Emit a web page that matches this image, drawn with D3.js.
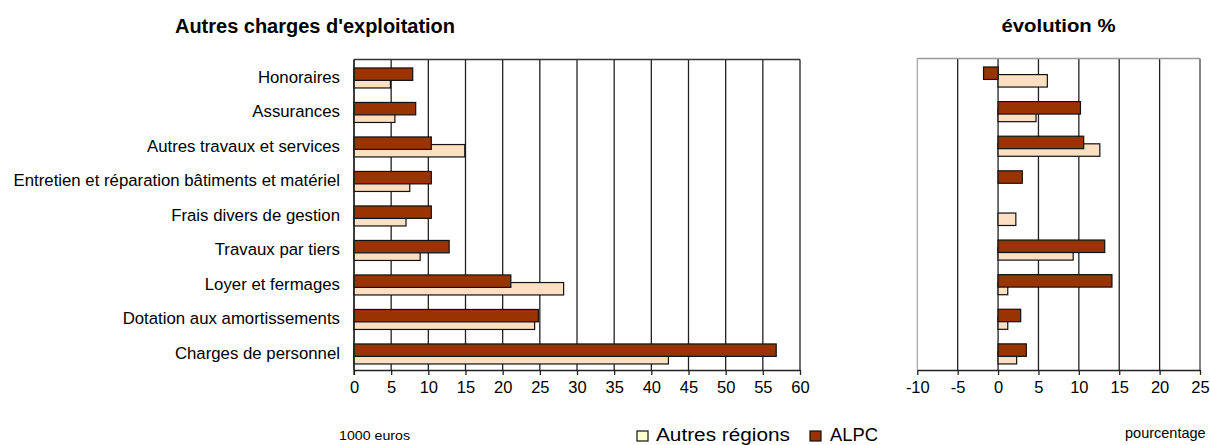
<!DOCTYPE html>
<html><head><meta charset="utf-8">
<script src="https://cdn.jsdelivr.net/npm/d3@7/dist/d3.min.js"></script>
<style>
html,body{margin:0;padding:0;background:#fff;}
svg{display:block;}
text{font-family:"Liberation Sans",Arial,sans-serif;fill:#000;}
</style></head>
<body>
<svg id="chart" width="1210" height="445"></svg>
<script>
const categories = ["Honoraires", "Assurances", "Autres travaux et services",
  "Entretien et réparation bâtiments et matériel", "Frais divers de gestion",
  "Travaux par tiers", "Loyer et fermages", "Dotation aux amortissements", "Charges de personnel"];
const alpcValues   = [7.9, 8.3, 10.4, 10.4, 10.4, 12.8, 21.1, 24.8, 56.8];
const autresValues = [4.9, 5.5, 14.9, 7.5, 7.0, 8.9, 28.2, 24.3, 42.3];
const alpcEvol     = [-1.8, 10.2, 10.6, 3.0, 0, 13.2, 14.1, 2.8, 3.5];
const autresEvol   = [6.1, 4.7, 12.6, 0, 2.2, 9.3, 1.2, 1.2, 2.3];
const leftTicks  = [0,5,10,15,20,25,30,35,40,45,50,55,60];
const rightTicks = [-10,-5,0,5,10,15,20,25];
const seriesNames = ["Autres régions", "ALPC"];

const colAlpc = "#993300", colAutres = "#FDDFC2", colLegAutres = "#FFFFCC";
const svg = d3.select("#chart");

function panel(opts){
  const {x0,x1,y0,y1,domain,ticks,a,b,borderLeft,borderTop,borderRight} = opts;
  const x = d3.scaleLinear().domain(domain).range([x0,x1]);
  const y = d3.scaleBand().domain(categories).range([y0,y1]).paddingInner(0).paddingOuter(0);
  const g = svg.append("g");
  g.selectAll("line.grid").data(ticks).enter().append("line")
    .attr("x1", d=>x(d)).attr("x2", d=>x(d)).attr("y1", y0).attr("y2", y1)
    .attr("stroke", d => d===domain[0] ? borderLeft : (d===domain[1] ? borderRight : "#222"))
    .attr("stroke-width", 1.3);
  g.append("line").attr("x1", x0).attr("x2", x1).attr("y1", y0).attr("y2", y0)
    .attr("stroke", borderTop).attr("stroke-width", 1.3);
  const bw = y.bandwidth();
  const h = bw*0.36;
  g.selectAll("rect.autres").data(categories).enter().append("rect")
    .attr("x", (d,i)=>x(Math.min(0,b[i]))).attr("width", (d,i)=>Math.abs(x(b[i])-x(0)))
    .attr("y", d=>y(d)+bw*0.465).attr("height", h)
    .attr("fill", colAutres).attr("stroke", "#111").attr("stroke-width", 1.2);
  g.selectAll("rect.alpc").data(categories).enter().append("rect")
    .attr("x", (d,i)=>x(Math.min(0,a[i]))).attr("width", (d,i)=>Math.abs(x(a[i])-x(0)))
    .attr("y", d=>y(d)+bw*0.245).attr("height", h)
    .attr("fill", colAlpc).attr("stroke", "#111").attr("stroke-width", 1.2);
  const ax = d3.axisBottom(x).tickValues(ticks).tickFormat(d=>String(d))
    .tickSize(5).tickSizeOuter(0).tickPadding(6);
  const axg = g.append("g").attr("transform", `translate(0,${y1})`).call(ax);
  axg.select(".domain").attr("stroke", "#222").attr("stroke-width", 1.3);
  axg.selectAll(".tick line").attr("stroke", "#222").attr("stroke-width", 1.3);
  axg.selectAll(".tick text").attr("font-size", 16.5).attr("font-family", "Liberation Sans, Arial, sans-serif")
    .attr("fill", "#000").attr("dy", "0.72em");
  return {x,y,g};
}

const L = panel({x0:354, x1:800, y0:59.5, y1:370, domain:[0,60], ticks:leftTicks,
  a:alpcValues, b:autresValues, borderLeft:"#222", borderTop:"#333", borderRight:"#222"});
const R = panel({x0:917.3, x1:1200, y0:58.5, y1:370, domain:[-10,25], ticks:rightTicks,
  a:alpcEvol, b:autresEvol, borderLeft:"#aaa", borderTop:"#999", borderRight:"#444"});

svg.append("line").attr("x1",354).attr("x2",354).attr("y1",59.5).attr("y2",375)
  .attr("stroke","#222").attr("stroke-width",1.3);

svg.selectAll("text.cat").data(categories).enter().append("text")
  .attr("x", 340).attr("y", d=>L.y(d)+L.y.bandwidth()/2)
  .attr("dy","0.36em").attr("text-anchor","end").attr("font-size",16.8).text(d=>d);

svg.append("text").attr("x",175).attr("y",33).attr("font-size",20).attr("font-weight","bold")
  .attr("textLength",280).attr("lengthAdjust","spacingAndGlyphs").text("Autres charges d'exploitation");
svg.append("text").attr("x",1001.5).attr("y",32).attr("font-size",18).attr("font-weight","bold")
  .attr("textLength",114).attr("lengthAdjust","spacingAndGlyphs").text("évolution %");

svg.append("text").attr("x",339).attr("y",440).attr("font-size",13.5).attr("textLength",71)
  .attr("lengthAdjust","spacingAndGlyphs").text("1000 euros");
svg.append("text").attr("x",1125).attr("y",438).attr("font-size",14.5).text("pourcentage");

const leg = svg.append("g");
const legItems = [
  {name: seriesNames[0], fill: colLegAutres, sx: 637, tx: 656, tw: 134},
  {name: seriesNames[1], fill: colAlpc, sx: 810, tx: 830, tw: 48}
];
legItems.forEach(it=>{
  leg.append("rect").attr("x",it.sx).attr("y",431).attr("width",11).attr("height",10)
    .attr("fill",it.fill).attr("stroke","#111").attr("stroke-width",1.2);
  leg.append("text").attr("x",it.tx).attr("y",441).attr("font-size",17.5)
    .attr("textLength",it.tw).attr("lengthAdjust","spacingAndGlyphs").text(it.name);
});
</script>
</body></html>
